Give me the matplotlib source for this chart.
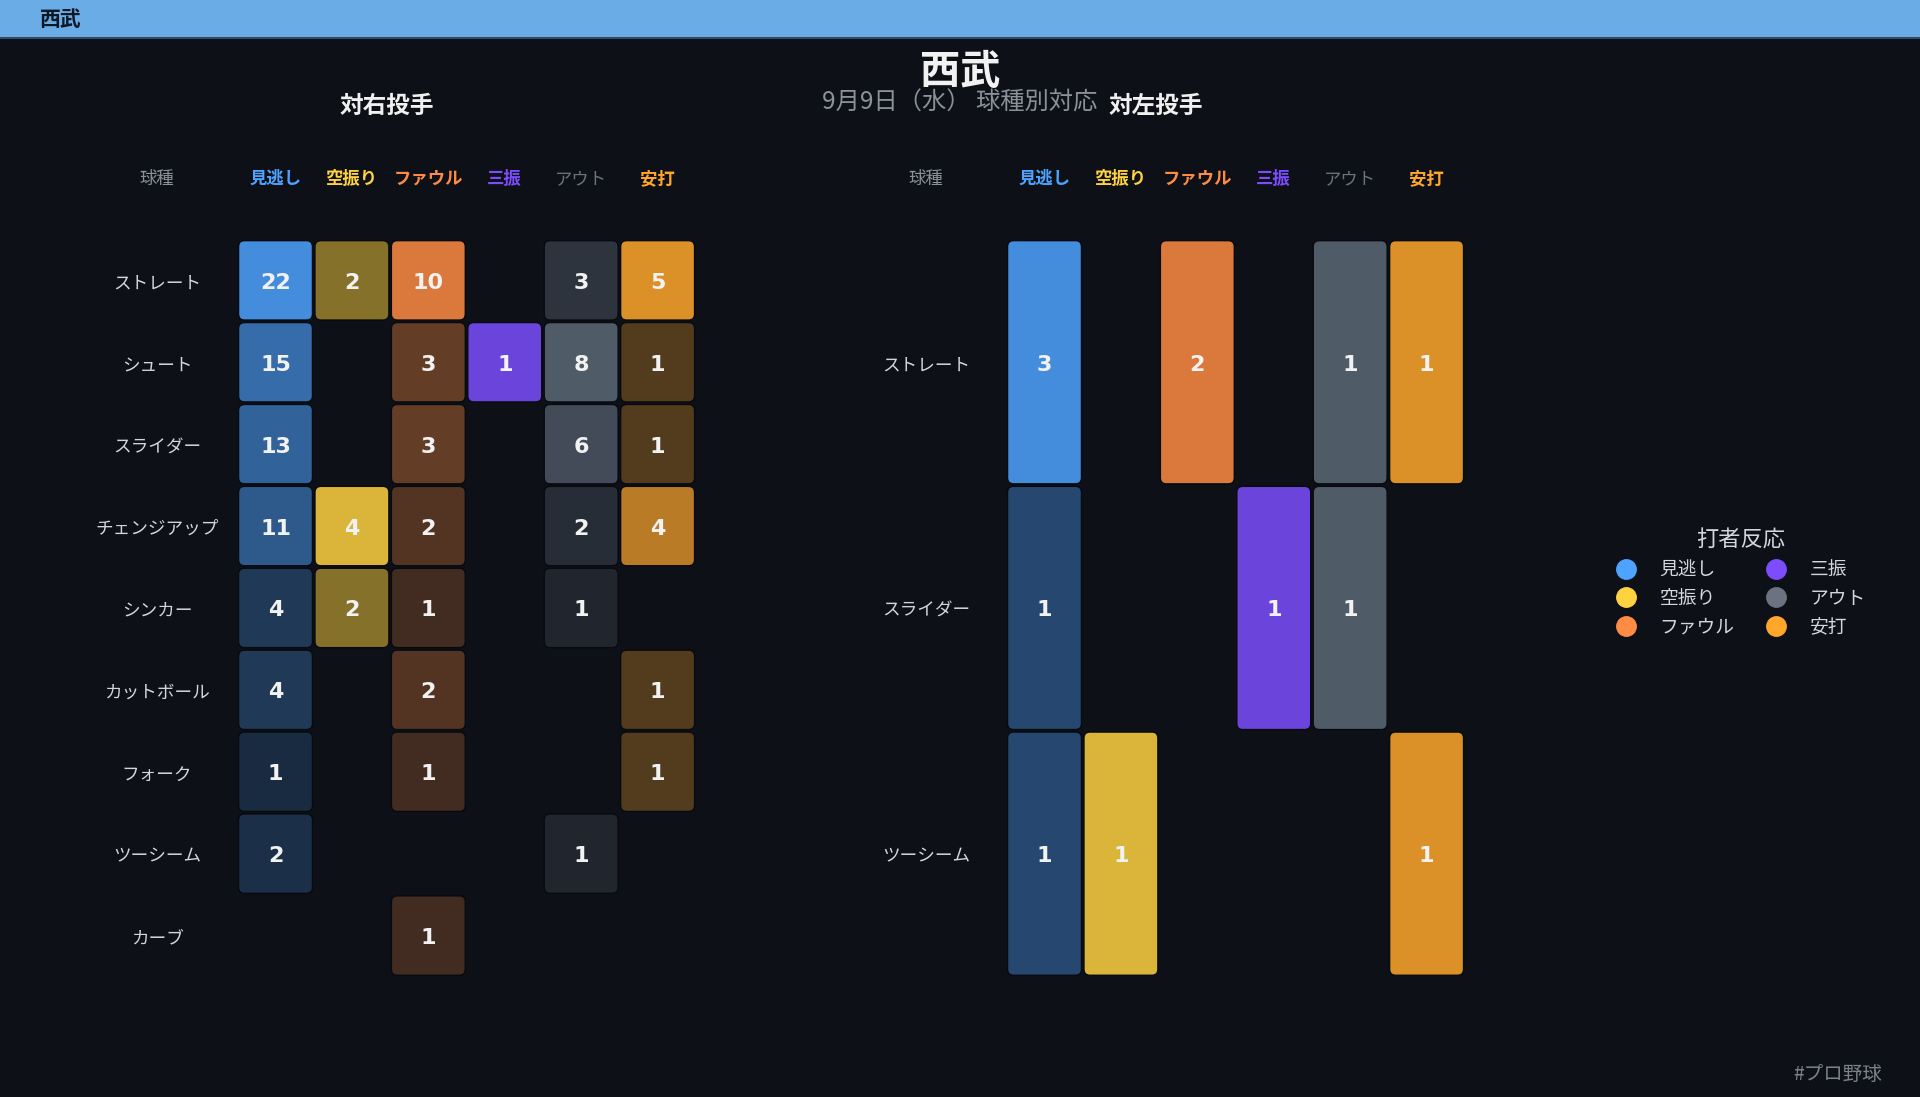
import matplotlib
matplotlib.use('Agg')
import matplotlib.pyplot as plt
import matplotlib.colors as mcolors
import matplotlib.transforms as mtransforms
from matplotlib.patches import FancyBboxPatch, Rectangle
from matplotlib.lines import Line2D

plt.rcParams['font.family'] = ['Noto Sans CJK JP', 'DejaVu Sans']

# data
team = '西武'
subtitle = '9月9日（水） 球種別対応'
responses = ['見逃し', '空振り', 'ファウル', '三振', 'アウト', '安打']
response_colors = ['#4da3ff', '#ffd23f', '#ff8c42', '#7c4dff', '#5c6876', '#ffa62b']
legend_colors = ['#4da3ff', '#ffd23f', '#ff8c42', '#7c4dff', '#6b7280', '#ffa62b']

rhp_pitches = ['ストレート', 'シュート', 'スライダー', 'チェンジアップ', 'シンカー',
               'カットボール', 'フォーク', 'ツーシーム', 'カーブ']
rhp_counts = [
    [22, 2, 10, 0, 3, 5],
    [15, 0, 3, 1, 8, 1],
    [13, 0, 3, 0, 6, 1],
    [11, 4, 2, 0, 2, 4],
    [4, 2, 1, 0, 1, 0],
    [4, 0, 2, 0, 0, 1],
    [1, 0, 1, 0, 0, 1],
    [2, 0, 0, 0, 1, 0],
    [0, 0, 1, 0, 0, 0],
]

lhp_pitches = ['ストレート', 'スライダー', 'ツーシーム']
lhp_counts = [
    [3, 0, 2, 0, 1, 1],
    [1, 0, 0, 1, 1, 0],
    [1, 1, 0, 0, 0, 1],
]

bg = '#0d1017'
W, H = 1920, 1097
dy = 3  # small downward nudge for text (px)

fig = plt.figure(figsize=(W / 100, H / 100), dpi=100, facecolor=bg)

# top bar
fig.patches.append(Rectangle((0, 1 - 38 / H), 1, 38 / H, transform=fig.transFigure,
                             facecolor='#6aade6', edgecolor='none', zorder=0))
fig.add_artist(Line2D([0, 1], [1 - 38 / H, 1 - 38 / H], transform=fig.transFigure,
                      color='#2f4d6b', lw=1.5))
fig.text(40 / W, 1 - 20 / H, team, fontsize=15, fontweight='bold', color='#0e1825',
         ha='left', va='center')

# titles
fig.text(0.5, 1 - (70 + dy) / H, team, fontsize=29, fontweight='bold', color='#f2f2f2',
         ha='center', va='center')
fig.text(0.5, 1 - (100 + dy) / H, subtitle, fontsize=17.5, color='#8b9099',
         ha='center', va='center')
fig.text(387 / W, 1 - (103 + dy) / H, '対右投手', fontsize=17, fontweight='bold',
         color='#f0f0f0', ha='center', va='center')
fig.text(1156 / W, 1 - (103 + dy) / H, '対左投手', fontsize=17, fontweight='bold',
         color='#f0f0f0', ha='center', va='center')


def blend(color, alpha):
    r, g, b = mcolors.to_rgb(color)
    br, bgc, bb = mcolors.to_rgb(bg)
    return (br + (r - br) * alpha, bgc + (g - bgc) * alpha, bb + (b - bb) * alpha)


def draw_panel(ax, pitches, counts):
    n = len(pitches)
    ax.set_facecolor(bg)
    ax.set_xlim(-0.5, len(responses) - 0.5)
    ax.set_ylim(n - 0.5, -0.5)
    ax.axis('off')

    pos = ax.get_position()
    px_x = pos.width * W / len(responses)
    px_y = pos.height * H / n
    aspect = px_x / px_y
    radius = 6 / px_x
    w = 1 - 2.5 / px_x
    h = 1 - 2.5 / px_y

    for j, resp in enumerate(responses):
        colmax = max(row[j] for row in counts)
        for i in range(n):
            v = counts[i][j]
            if v == 0:
                continue
            a = 0.15 + 0.7 * v / colmax
            box = FancyBboxPatch((j - w / 2, i - h / 2), w, h,
                                 boxstyle=f'round,pad=0,rounding_size={radius}',
                                 mutation_aspect=aspect,
                                 facecolor=blend(response_colors[j], a),
                                 edgecolor='#080a0f', linewidth=1)
            ax.add_patch(box)
            ax.text(j, i + 2.5 / px_y, str(v), ha='center', va='center', fontsize=16,
                    fontweight='bold', color='#f2f2f2', family='DejaVu Sans')

    trans = mtransforms.blended_transform_factory(ax.transData, ax.transAxes)
    hy = (976.5 - 176 - dy) / 737.1
    ax.text(-1.55, hy, '球種', transform=trans, ha='center', va='center',
            fontsize=12.5, color='#8b9099', clip_on=False)
    for j, resp in enumerate(responses):
        ax.text(j, hy, resp, transform=trans, ha='center', va='center',
                fontsize=12.5, color=legend_colors[j],
                fontweight='normal' if resp == 'アウト' else 'bold', clip_on=False)

    for i, name in enumerate(pitches):
        ax.text(-1.55, i + dy / px_y, name, ha='center', va='center', fontsize=12.7,
                color='#d4d6da', clip_on=False)


ax_r = fig.add_axes([237.3 / W, 1 - 976.5 / H, 458.5 / W, 737.1 / H])
ax_l = fig.add_axes([1006.3 / W, 1 - 976.5 / H, 458.5 / W, 737.1 / H])
draw_panel(ax_r, rhp_pitches, rhp_counts)
draw_panel(ax_l, lhp_pitches, lhp_counts)

# legend
handles = [Line2D([], [], marker='o', linestyle='', markersize=14,
                  markerfacecolor=c, markeredgecolor=c) for c in legend_colors]
leg = fig.legend(handles, responses, ncol=2, title='打者反応', frameon=False,
                 loc='center', bbox_to_anchor=(1741 / W, 1 - 583 / H),
                 fontsize=13.5, title_fontsize=16, labelcolor='#d4d6da',
                 handlelength=1.0, handletextpad=1.3, columnspacing=1.7,
                 labelspacing=0.4)
leg.get_title().set_color('#d4d6da')

fig.text(1882 / W, 1 - (1071 + dy) / H, '#プロ野球', fontsize=14, color='#7d828a',
         ha='right', va='center')

fig.savefig('out.png', dpi=100, facecolor=bg)
